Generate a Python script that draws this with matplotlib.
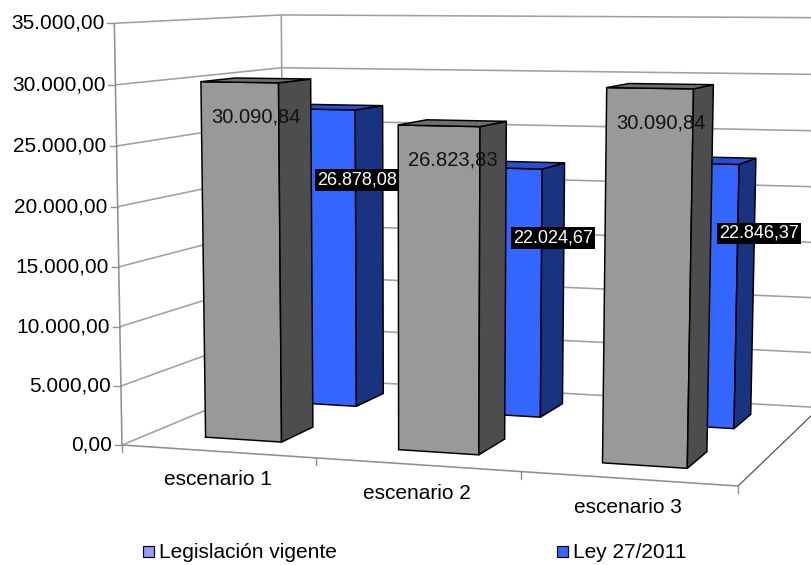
import numpy as np
import matplotlib
matplotlib.use("Agg")
import matplotlib.pyplot as plt
from matplotlib.patches import Polygon, Rectangle

# ---- data ----
categories = ["escenario 1", "escenario 2", "escenario 3"]
series_names = ["Legislación vigente", "Ley 27/2011"]
legislacion_vigente = [30090.84, 26823.83, 30090.84]
ley_27_2011 = [26878.08, 22024.67, 22846.37]
y_ticks = [0, 5000, 10000, 15000, 20000, 25000, 30000, 35000]
y_max = 35000

plt.rcParams["font.family"] = ["Liberation Sans", "DejaVu Sans"]

# ---- perspective camera (homogeneous 3x4, output in pixels) ----
# world: x = category units, y = value / y_max, z = depth rows (series)
P = np.array([
    [185.48, -10.57, 104.3, 122.0],
    [0.582, -422.3, -2.85, 445.0],
    [-0.02694, -0.0252, 0.0815, 1.0],
])
N_CAT = len(categories)
N_ROWS = len(series_names)


def proj(x, v, z):
    h = P @ np.array([x, v / y_max, z, 1.0])
    return h[0] / h[2], h[1] / h[2]


def fmt_es(v):
    s = f"{v:,.2f}"
    return s.replace(",", "X").replace(".", ",").replace("X", ".")


W, H = 811, 565
fig = plt.figure(figsize=(W / 100, H / 100), dpi=100)
ax = fig.add_axes([0, 0, 1, 1])
ax.set_xlim(0, W)
ax.set_ylim(H, 0)
ax.axis("off")

PX = 0.72  # one pixel in points
grid_c = "#a0a0a0"


def line3d(pts, **kw):
    xy = np.array([proj(*p) for p in pts])
    ax.plot(xy[:, 0], xy[:, 1], solid_capstyle="butt", **kw)


# walls and floor
for poly in (
    [(0, 0, 0), (0, y_max, 0), (0, y_max, N_ROWS), (0, 0, N_ROWS)],
    [(0, 0, N_ROWS), (0, y_max, N_ROWS), (N_CAT, y_max, N_ROWS), (N_CAT, 0, N_ROWS)],
    [(0, 0, 0), (N_CAT, 0, 0), (N_CAT, 0, N_ROWS), (0, 0, N_ROWS)],
):
    ax.add_patch(Polygon([proj(*p) for p in poly], closed=True, fc="white", ec="none", zorder=0))

# gridlines on left and back walls
for t in y_ticks:
    line3d([(0, t, 0), (0, t, N_ROWS), (N_CAT, t, N_ROWS)], color=grid_c, lw=1.6 * PX, zorder=1)

# wall edges
line3d([(0, 0, 0), (0, y_max, 0)], color="#909090", lw=1.6 * PX, zorder=1)
line3d([(0, 0, N_ROWS), (0, y_max, N_ROWS)], color=grid_c, lw=1.6 * PX, zorder=1)
line3d([(0, 0, 0), (N_CAT, 0, 0)], color="#909090", lw=1.6 * PX, zorder=1)
line3d([(N_CAT, 0, 0), (N_CAT, 0, N_ROWS)], color="#505050", lw=1.2 * PX, zorder=1)

# value axis ticks and labels
for t in y_ticks:
    x, y = proj(0, t, 0)
    ax.plot([x - 7, x], [y, y], color="#909090", lw=1.4 * PX, zorder=1)
    ax.text(x - 10, y, fmt_es(t), ha="right", va="center", fontsize=15, color="black")

# category ticks and labels
for i in range(N_CAT + 1):
    x, y = proj(i, 0, 0)
    ax.plot([x, x], [y, y + 7], color="#909090", lw=1.4 * PX, zorder=1)
for i, name in enumerate(categories):
    x, y = proj(i + 0.5, 0, 0)
    ax.text(x, y + 28.5, name, ha="center", va="center", fontsize=15, color="black")

# bars
face_colors = [
    {"front": "#999999", "side": "#4d4d4d", "top": "#6e6e6e"},
    {"front": "#3366ff", "side": "#1a3380", "top": "#2650d0"},
]
series_values = [legislacion_vigente, ley_27_2011]
lo, hi = 0.3, 0.7


def draw_bar(i, row, v, cols, z):
    x0, x1 = i + lo, i + hi
    z0, z1 = row + lo, row + hi
    faces = [
        ([(x0, 0, z0), (x1, 0, z0), (x1, v, z0), (x0, v, z0)], cols["front"]),
        ([(x1, 0, z0), (x1, 0, z1), (x1, v, z1), (x1, v, z0)], cols["side"]),
        ([(x0, v, z0), (x1, v, z0), (x1, v, z1), (x0, v, z1)], cols["top"]),
    ]
    for pts, c in faces:
        ax.add_patch(Polygon([proj(*p) for p in pts], closed=True, fc=c, ec="black",
                             lw=1.5 * PX, joinstyle="miter", zorder=z))


zo = 2
for row in reversed(range(N_ROWS)):
    for i in range(N_CAT):
        draw_bar(i, row, series_values[row][i], face_colors[row], zo)
        zo += 1

# value labels
for i, v in enumerate(legislacion_vigente):
    x, y = proj(i + 0.5, v, 0.5)
    ax.text(x, y + 37, fmt_es(v), ha="center", va="center", fontsize=14.5,
            color="#111111", zorder=50)
for i, v in enumerate(ley_27_2011):
    x, _ = proj(i + 0.5, v, 0.5)
    _, y = proj(i + 0.5, v, 1.5)
    ax.text(x + 100, y + 73, fmt_es(v), ha="center", va="center", fontsize=13,
            color="white", zorder=50,
            bbox=dict(boxstyle="square,pad=0.12", fc="black", ec="none"))

# legend
legend_cols = ["#9999ff", "#3366ff"]
legend_x = [143, 557]
for lx, c, name in zip(legend_x, legend_cols, series_names):
    ax.add_patch(Rectangle((lx, 546), 11, 11, fc=c, ec="black", lw=1.2 * PX, zorder=5))
    ax.text(lx + 16, 552, name, ha="left", va="center", fontsize=15, color="black")

fig.savefig("out.png", dpi=100)
